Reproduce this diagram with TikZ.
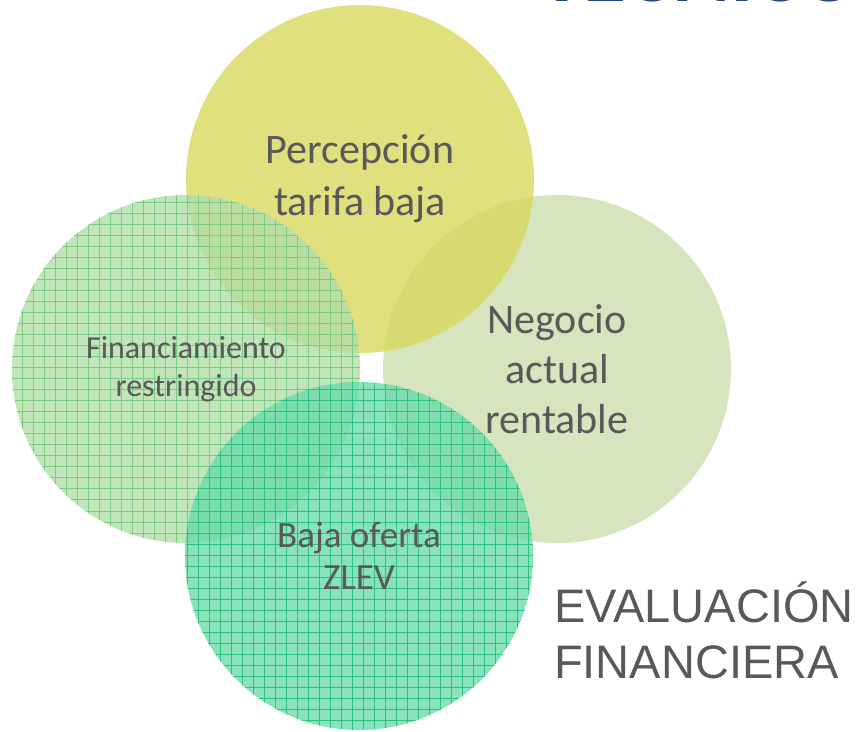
\documentclass[tikz,border=0pt]{standalone}
\usepackage{fontspec}
\setmainfont{Carlito}
\newfontfamily\arialfont{Liberation Sans}
\usepackage{xcolor}
\usetikzlibrary{patterns.meta}

\definecolor{topyellow}{HTML}{D8D85E}
\definecolor{leftgreen}{HTML}{B0DFA8}
\definecolor{rightgreen}{HTML}{CCDEAC}
\definecolor{bottommint}{HTML}{6ADCAA}
\definecolor{gridleft}{HTML}{7FCB86}
\definecolor{gridmint}{HTML}{2FC283}
\definecolor{textgray}{HTML}{595959}
\definecolor{titleblue}{HTML}{224A7E}

\tikzdeclarepattern{
  name=finegrid, type=uncolored,
  bottom left={(-1pt,-1pt)}, top right={(11pt,11pt)},
  tile size={(11pt,11pt)},
  code={\draw[line width=1pt] (0pt,0pt) -- (11pt,0pt) (0pt,0pt) -- (0pt,11pt);}}

\begin{document}
\begin{tikzpicture}[x=1pt, y=-1pt,
    bubble/.style={circle, minimum size=348pt, inner sep=0pt,
      fill opacity=0.8, text opacity=1, text=textgray, align=center},
    gridded/.style={postaction={pattern=finegrid, pattern color=#1,
      fill opacity=0.22}},
    every label/.style={font=\small}]

  \useasboundingbox (0,0) rectangle (861,731);

  % Heading, cut off at the top edge
  \node[anchor=base west, text=titleblue, font=\bfseries\fontsize{88}{88}\selectfont,
    inner sep=0pt] (title) at (540, 1) {TÉCNICO};

  % Four overlapping circles
  \node[bubble, fill=rightgreen, font=\fontsize{42}{50}\selectfont]
    (negocio) at (557, 369) {Negocio\\actual\\rentable};
  \node[bubble, fill=topyellow, font=\fontsize{42}{52}\selectfont]
    (percepcion) at (360, 179) {Percepción\\tarifa baja};
  \node[bubble, gridded=gridleft, fill=leftgreen, font=\fontsize{32}{38}\selectfont]
    (financ) at (186, 369) {Financiamiento\\restringido};
  \node[bubble, gridded=gridmint, fill=bottommint, font=\fontsize{37}{42}\selectfont]
    (baja) at (359, 556) {Baja oferta\\ZLEV};

  % Side caption
  \node[anchor=west, align=left, text=textgray, inner sep=0pt,
    font=\arialfont\fontsize{47}{56}\selectfont] (caption) at (554, 630)
    {EVALUACIÓN\\FINANCIERA};

\end{tikzpicture}
\end{document}
